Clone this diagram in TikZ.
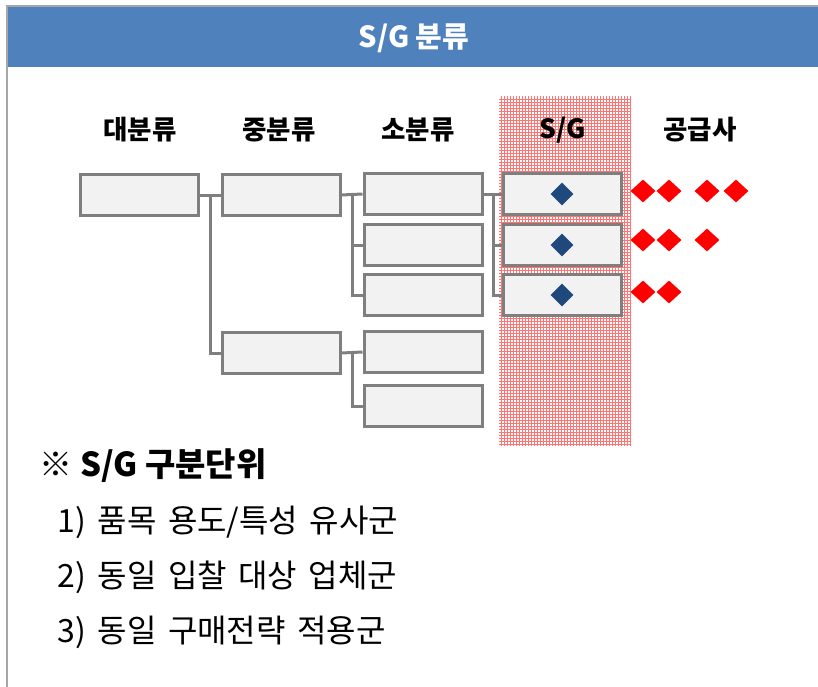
\documentclass[tikz,border=0pt]{standalone}
\usepackage{fontspec}
\setmainfont{Noto Sans CJK KR}
\usetikzlibrary{shapes.geometric,patterns}
\definecolor{hdr}{HTML}{4F81BD}
\definecolor{bx}{HTML}{F2F2F2}
\definecolor{ln}{HTML}{7F7F7F}
\definecolor{navy}{HTML}{1F497D}
\definecolor{frm}{HTML}{A6A6A6}
\newcommand\widesp{\spaceskip=0.36em\relax}
\begin{document}
\begin{tikzpicture}[x=1pt,y=-1pt,
 box/.style={draw=ln,line width=3pt,fill=bx,minimum width=118pt,minimum height=41pt,inner sep=0pt},
 conn/.style={draw=ln,line width=3pt},
 hd/.style={font=\fontsize{26.5}{30}\selectfont\bfseries},
 note/.style={font=\fontsize{32}{36}\selectfont,anchor=west},
 rd/.style={diamond,fill=red,minimum width=25pt,minimum height=23pt,inner sep=0pt},
 bd/.style={diamond,fill=navy,minimum width=23pt,minimum height=23pt,inner sep=0pt}]
\useasboundingbox (0,0) rectangle (818,687);
% frame and header
\fill[hdr] (7,7) rectangle (818,67);
\draw[frm,line width=1.5pt] (7,687) -- (7,6) -- (818,6);
\node[font=\fontsize{29}{32}\selectfont\bfseries,text=white] (title) at (414,38) {S/G 분류};
% hatched S/G column
\fill[pattern=grid,pattern color=red!55] (499,97) rectangle (631,445);
% column headers
\node[hd] (h1) at (140,130) {대분류};
\node[hd] (h2) at (279,130) {중분류};
\node[hd] (h3) at (418,130) {소분류};
\node[hd] (h4) at (563,130) {S/G};
\node[hd] (h5) at (700,130) {공급사};
% boxes
\node[box] (d1) at (139,195) {};
\node[box] (m1) at (281,195) {};
\node[box] (m2) at (281,353) {};
\node[box] (s1) at (423,194) {};
\node[box] (s2) at (423,245) {};
\node[box] (s3) at (423,295) {};
\node[box] (s4) at (423,352) {};
\node[box] (s5) at (423,406) {};
\node[box] (g1) at (562,194) {};
\node[box] (g2) at (562,245) {};
\node[box] (g3) at (562,295) {};
% connectors
\draw[conn] (d1.east) -- (m1.west);
\draw[conn] (d1.east) ++(11,0) coordinate (b1) |- (m2.west);
\draw[conn] (m1.east) -- (s1.west);
\draw[conn] (m1.east) ++(11,0) coordinate (b2) |- (s2.west);
\draw[conn] (b2) |- (s3.west);
\draw[conn] (m2.east) -- (s4.west);
\draw[conn] (m2.east) ++(11,0) coordinate (b3) |- (s5.west);
\draw[conn] (s1.east) -- (g1.west);
\draw[conn] (s1.east) ++(10,0) coordinate (b4) |- (g2.west);
\draw[conn] (b4) |- (g3.west);
% diamonds in S/G boxes
\node[bd] (q1) at (g1) {};
\node[bd] (q2) at (g2) {};
\node[bd] (q3) at (g3) {};
% supplier diamonds
\node[rd] (r11) at (643,191) {};
\node[rd] (r12) at (669,191) {};
\node[rd] (r13) at (707,191) {};
\node[rd] (r14) at (736,191) {};
\node[rd] (r21) at (643,240) {};
\node[rd] (r22) at (669,240) {};
\node[rd] (r23) at (707,240) {};
\node[rd] (r31) at (643,292) {};
\node[rd] (r32) at (669,292) {};
% notes
\node[note,font=\fontsize{33}{36}\selectfont\bfseries] (n0) at (36,466) {※ S/G 구분단위};
\node[note] (n1) at (54,522) {\widesp 1) 품목 용도/특성 유사군};
\node[note] (n2) at (54,577) {\widesp 2) 동일 입찰 대상 업체군};
\node[note] (n3) at (54,632) {\widesp 3) 동일 구매전략 적용군};
\end{tikzpicture}
\end{document}
